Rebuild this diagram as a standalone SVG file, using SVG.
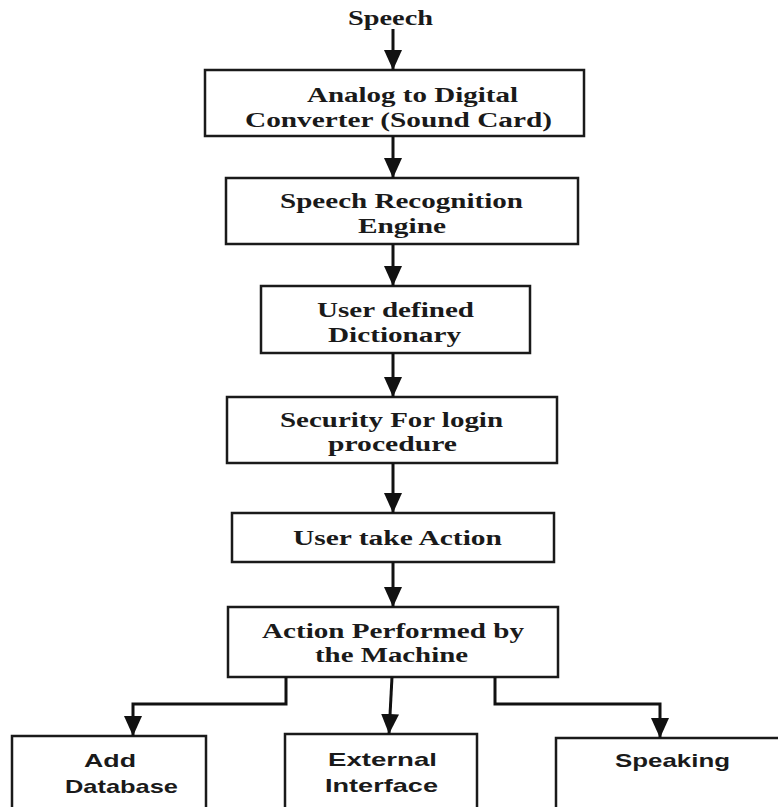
<svg xmlns="http://www.w3.org/2000/svg" width="778" height="807" viewBox="0 0 778 807">
  <style>
    .box { fill: #ffffff; stroke: #1a1a1a; stroke-width: 2.5; }
    .lbl { font-family: "Liberation Serif", "Times New Roman", serif; font-weight: bold; font-size: 20px; fill: #1a1a1a; }
    .lbs { font-family: "Liberation Sans", Arial, sans-serif; font-weight: bold; font-size: 19px; fill: #1a1a1a; }
    .wire { fill: none; stroke: #111111; stroke-width: 3; }
  </style>
  <defs>
    <marker id="head" markerUnits="userSpaceOnUse" markerWidth="22" markerHeight="18" viewBox="0 0 22 18" refX="20" refY="9" orient="auto">
      <path d="M0,0 L20,9 L0,18 Z" fill="#111111"/>
    </marker>
  </defs>
  <rect width="778" height="807" fill="#ffffff"/>

  <g id="speech">
    <text class="lbl" x="348" y="25" textLength="85" lengthAdjust="spacingAndGlyphs">Speech</text>
  </g>

  <g id="adc">
    <rect class="box" x="205" y="70" width="379" height="66"/>
    <text class="lbl" x="307" y="102" textLength="211" lengthAdjust="spacingAndGlyphs">Analog to Digital</text>
    <text class="lbl" x="245" y="127" textLength="307" lengthAdjust="spacingAndGlyphs">Converter (Sound Card)</text>
  </g>

  <g id="engine">
    <rect class="box" x="226" y="178" width="352" height="66"/>
    <text class="lbl" x="280" y="208" textLength="243" lengthAdjust="spacingAndGlyphs">Speech Recognition</text>
    <text class="lbl" x="358" y="233" textLength="88" lengthAdjust="spacingAndGlyphs">Engine</text>
  </g>

  <g id="dictionary">
    <rect class="box" x="261" y="286" width="269" height="67"/>
    <text class="lbl" x="317" y="317" textLength="157" lengthAdjust="spacingAndGlyphs">User defined</text>
    <text class="lbl" x="328" y="342" textLength="133" lengthAdjust="spacingAndGlyphs">Dictionary</text>
  </g>

  <g id="security">
    <rect class="box" x="227" y="397" width="330" height="66"/>
    <text class="lbl" x="280" y="427" textLength="223" lengthAdjust="spacingAndGlyphs">Security For login</text>
    <text class="lbl" x="328" y="451" textLength="129" lengthAdjust="spacingAndGlyphs">procedure</text>
  </g>

  <g id="user-action">
    <rect class="box" x="232" y="513" width="322" height="49"/>
    <text class="lbl" x="293" y="545" textLength="209" lengthAdjust="spacingAndGlyphs">User take Action</text>
  </g>

  <g id="machine-action">
    <rect class="box" x="228" y="607" width="330" height="70"/>
    <text class="lbl" x="262" y="638" textLength="262" lengthAdjust="spacingAndGlyphs">Action Performed by</text>
    <text class="lbl" x="315" y="662" textLength="153" lengthAdjust="spacingAndGlyphs">the Machine</text>
  </g>

  <g id="add-database">
    <rect class="box" x="12" y="736" width="194" height="80"/>
    <text class="lbs" x="84" y="767" textLength="52" lengthAdjust="spacingAndGlyphs">Add</text>
    <text class="lbs" x="65" y="793" textLength="113" lengthAdjust="spacingAndGlyphs">Database</text>
  </g>

  <g id="external-interface">
    <rect class="box" x="285" y="734" width="192" height="82"/>
    <text class="lbs" x="328" y="766" textLength="109" lengthAdjust="spacingAndGlyphs">External</text>
    <text class="lbs" x="325" y="792" textLength="113" lengthAdjust="spacingAndGlyphs">Interface</text>
  </g>

  <g id="speaking">
    <rect class="box" x="556" y="738" width="240" height="80"/>
    <text class="lbs" x="615" y="767" textLength="115" lengthAdjust="spacingAndGlyphs">Speaking</text>
  </g>

  <g id="connectors">
    <path class="wire" d="M393,29 V70" marker-end="url(#head)"/>
    <path class="wire" d="M393,136 V178" marker-end="url(#head)"/>
    <path class="wire" d="M393,244 V286" marker-end="url(#head)"/>
    <path class="wire" d="M393,353 V397" marker-end="url(#head)"/>
    <path class="wire" d="M393,463 V513" marker-end="url(#head)"/>
    <path class="wire" d="M393,562 V607" marker-end="url(#head)"/>
    <path class="wire" d="M286,677 V704 H133 V736" marker-end="url(#head)"/>
    <path class="wire" d="M392,677 L389,734" marker-end="url(#head)"/>
    <path class="wire" d="M495,677 V704 H660 V738" marker-end="url(#head)"/>
  </g>
</svg>
